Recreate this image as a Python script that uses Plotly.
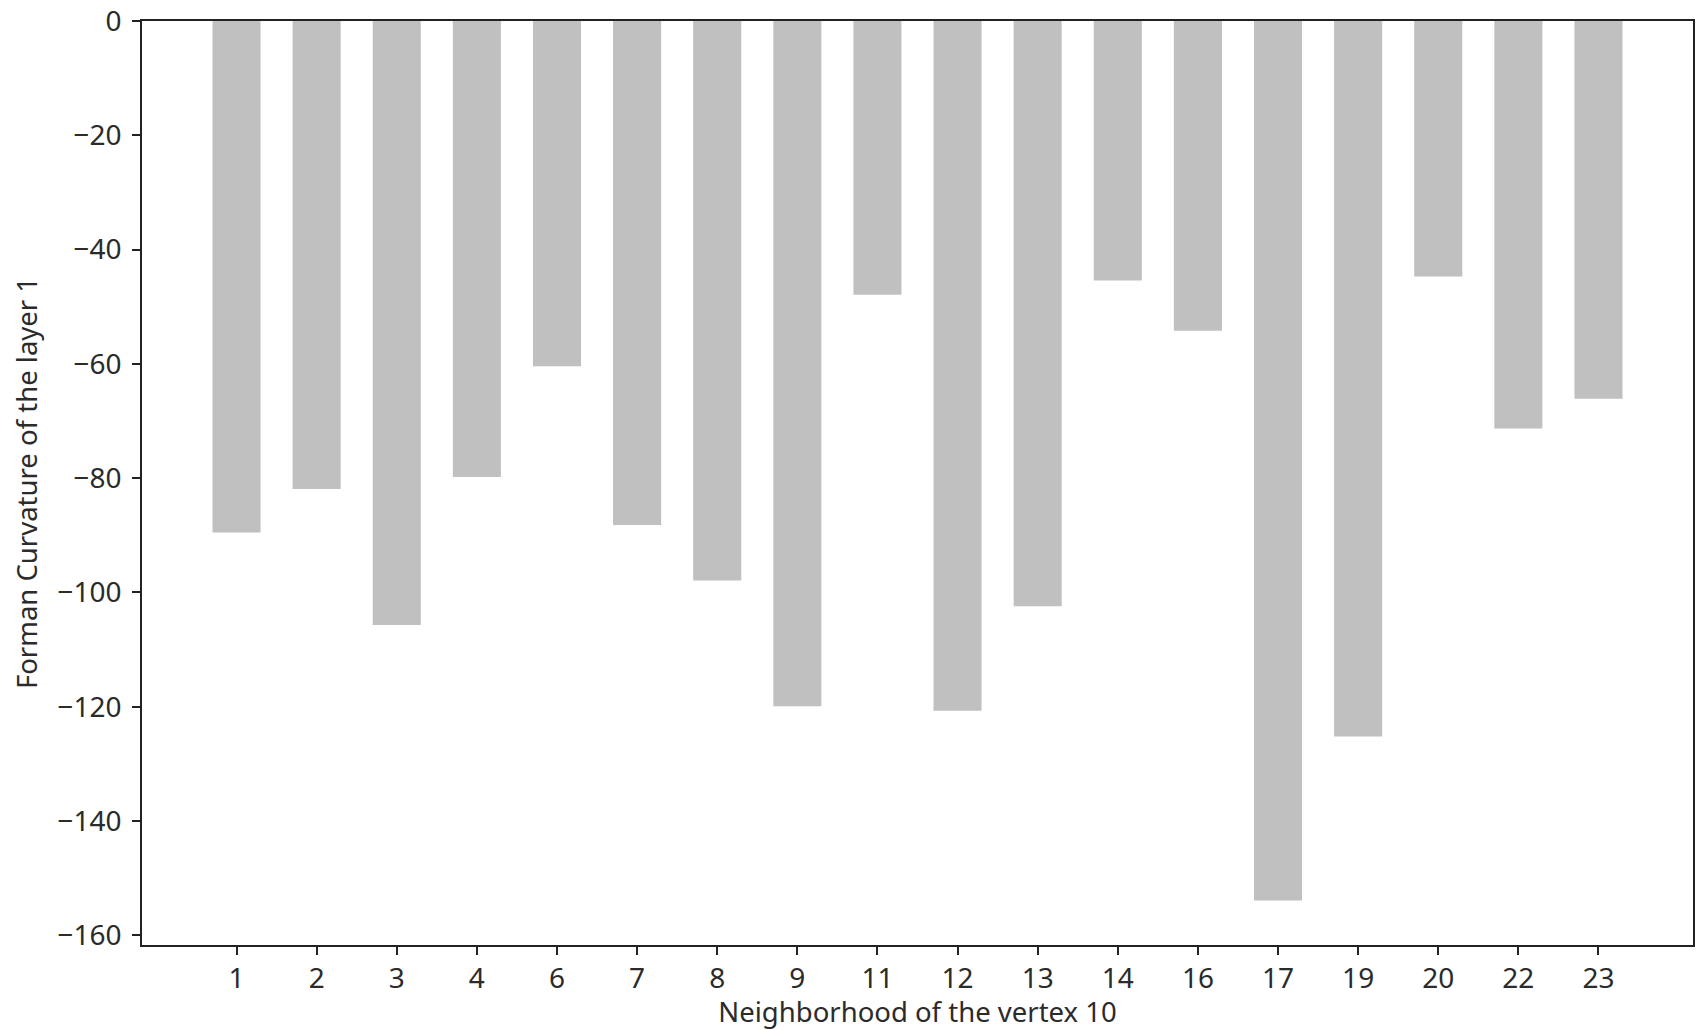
import plotly.graph_objects as go

# neighborhood of vertex 10 and their Forman curvature (layer 1)
neighbors = ["1", "2", "3", "4", "6", "7", "8", "9", "11", "12",
             "13", "14", "16", "17", "19", "20", "22", "23"]
curvature = [-89.5, -81.9, -105.7, -79.8, -60.4, -88.2, -97.9, -119.9, -47.9, -120.7,
             -102.4, -45.4, -54.2, -153.9, -125.2, -44.7, -71.3, -66.1]
y_ticks = [0, -20, -40, -60, -80, -100, -120, -140, -160]

FONT = "Noto Sans, sans-serif"
AXIS_COLOR = "#222222"

fig = go.Figure(go.Bar(
    x=neighbors,
    y=curvature,
    width=0.6,
    marker=dict(color="#c0c0c0", line=dict(width=0)),
))

fig.update_layout(
    width=1704,
    height=1030,
    template="none",
    plot_bgcolor="white",
    paper_bgcolor="white",
    showlegend=False,
    font=dict(family=FONT, size=28, color="#2b2b2b"),
    margin=dict(l=142, r=11, t=21, b=85),
)

fig.update_xaxes(
    type="category",
    range=[-1.18, len(neighbors) - 1 + 1.18],
    title_text="Neighborhood of the vertex 10",
    title_font=dict(size=27.5),
    title_standoff=0,
    tickfont=dict(size=28),
    showline=True, linecolor=AXIS_COLOR, linewidth=1.6, mirror=True,
    ticks="outside", ticklen=8, tickwidth=1.5, tickcolor=AXIS_COLOR,
    showgrid=False, zeroline=False,
)

fig.update_yaxes(
    range=[-161.7, 0],
    tickvals=y_ticks,
    title_text="Forman Curvature of the layer 1",
    title_font=dict(size=27.5),
    title_standoff=12,
    tickfont=dict(size=28),
    ticklabelstandoff=5,
    ticklabeloverflow="allow",
    showline=True, linecolor=AXIS_COLOR, linewidth=1.6, mirror=True,
    ticks="outside", ticklen=8, tickwidth=1.5, tickcolor=AXIS_COLOR,
    showgrid=False, zeroline=False,
)

fig.write_html("out.html", config={"displayModeBar": False},
               post_script="document.body.style.margin='0';")
